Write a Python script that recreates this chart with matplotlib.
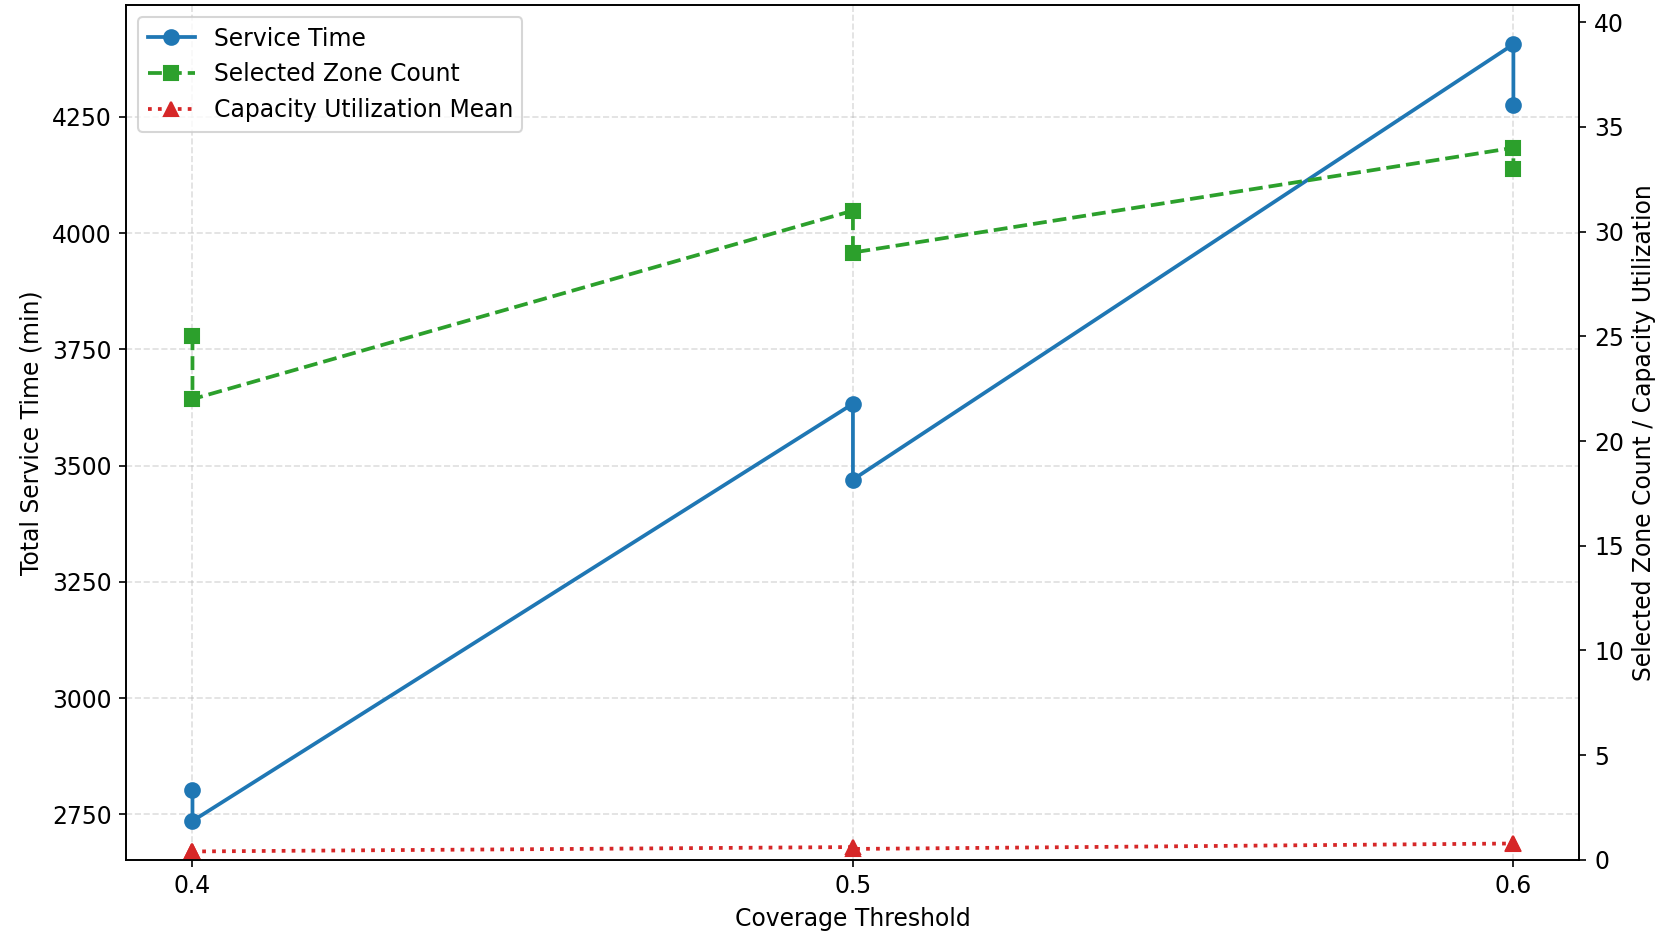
import matplotlib
matplotlib.use("Agg")
from matplotlib import pyplot as plt

plt.rcParams['font.size'] = 11.3

# coverage threshold (two runs per threshold)
threshold = [0.4, 0.4, 0.5, 0.5, 0.6, 0.6]
service_time = [2803, 2736, 3633, 3470, 4406, 4275]
zone_count = [25, 22, 31, 29, 34, 33]
cap_util = [0.41, 0.40, 0.61, 0.52, 0.78, 0.76]

fig, ax1 = plt.subplots(figsize=(1679 / 150, 935 / 150), dpi=150)
fig.subplots_adjust(left=0.0753, right=0.9407, top=0.9942, bottom=0.0804)

l1, = ax1.plot(threshold, service_time, color='tab:blue', marker='o',
               linestyle='-', linewidth=1.8, markersize=7, label='Service Time')
ax1.set_xlabel('Coverage Threshold')
ax1.set_ylabel('Total Service Time (min)')
ax1.set_xticks([0.4, 0.5, 0.6])
ax1.grid(True, linestyle='--', alpha=0.4)

ax2 = ax1.twinx()
l2, = ax2.plot(threshold, zone_count, color='tab:green', marker='s',
               linestyle='--', linewidth=1.8, markersize=7, label='Selected Zone Count')
l3, = ax2.plot(threshold, cap_util, color='tab:red', marker='^',
               linestyle=':', linewidth=1.8, markersize=7, label='Capacity Utilization Mean')
ax2.set_ylim(0, max(zone_count) * 1.2)
ax2.set_ylabel('Selected Zone Count / Capacity Utilization')

ax2.legend(handles=[l1, l2, l3], loc='upper left')

plt.savefig('out.png', dpi=150)
